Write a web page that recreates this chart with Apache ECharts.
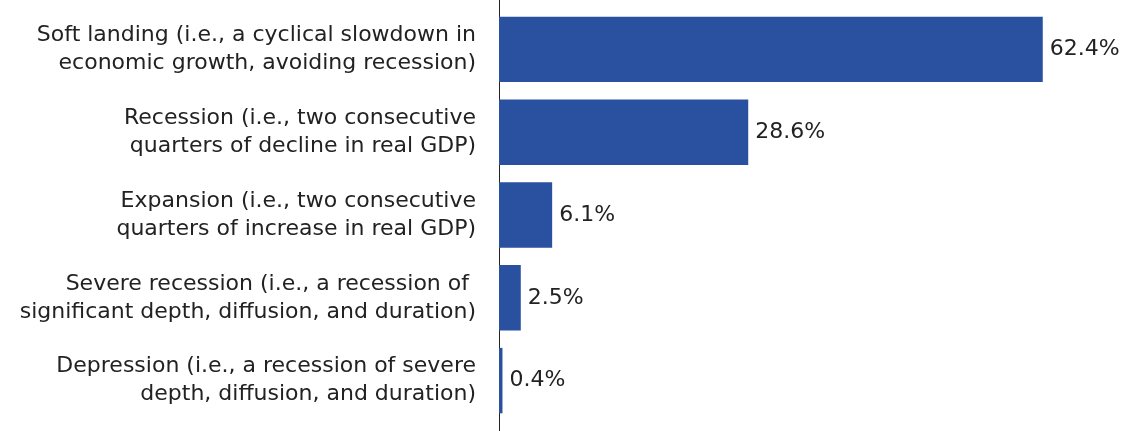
<!DOCTYPE html>
<html><head><meta charset="utf-8">
<script src="https://cdn.jsdelivr.net/npm/echarts@6/dist/echarts.min.js"></script>
<style>html,body{margin:0;padding:0;background:#fff}#c{width:1126px;height:431px}</style>
</head><body><div id="c"></div>
<script>
const categories = [
  "Soft landing (i.e., a cyclical slowdown in\neconomic growth, avoiding recession)",
  "Recession (i.e., two consecutive\nquarters of decline in real GDP)",
  "Expansion (i.e., two consecutive\nquarters of increase in real GDP)",
  "Severe recession (i.e., a recession of \nsignificant depth, diffusion, and duration)",
  "Depression (i.e., a recession of severe\ndepth, diffusion, and duration)"
];
const values = [62.4, 28.6, 6.1, 2.5, 0.4];

const chart = echarts.init(document.getElementById('c'), null, {renderer:'canvas'});
chart.setOption({
  animation: false,
  grid: {left: 499, top: 8, width: 610, height: 414, containLabel: false},
  xAxis: {type: 'value', min: 0, max: 70, show: false},
  yAxis: {
    type: 'category', data: categories, inverse: true,
    axisLine: {show: false}, axisTick: {show: false},
    axisLabel: {margin: 23, fontFamily: 'DejaVu Sans', fontSize: 22, color: '#222', lineHeight: 28, align: 'right'}
  },
  graphic: [{type: 'line', shape: {x1: 499.5, y1: 0, x2: 499.5, y2: 431}, style: {stroke: '#222', lineWidth: 1}}],
  series: [{
    type: 'bar', data: values, barCategoryGap: '21%',
    itemStyle: {color: '#2a51a0'},
    label: {show: true, position: 'right', distance: 7, formatter: p => p.value.toFixed(1) + '%',
      fontFamily: 'DejaVu Sans', fontSize: 22, color: '#222'}
  }]
});
</script></body></html>
